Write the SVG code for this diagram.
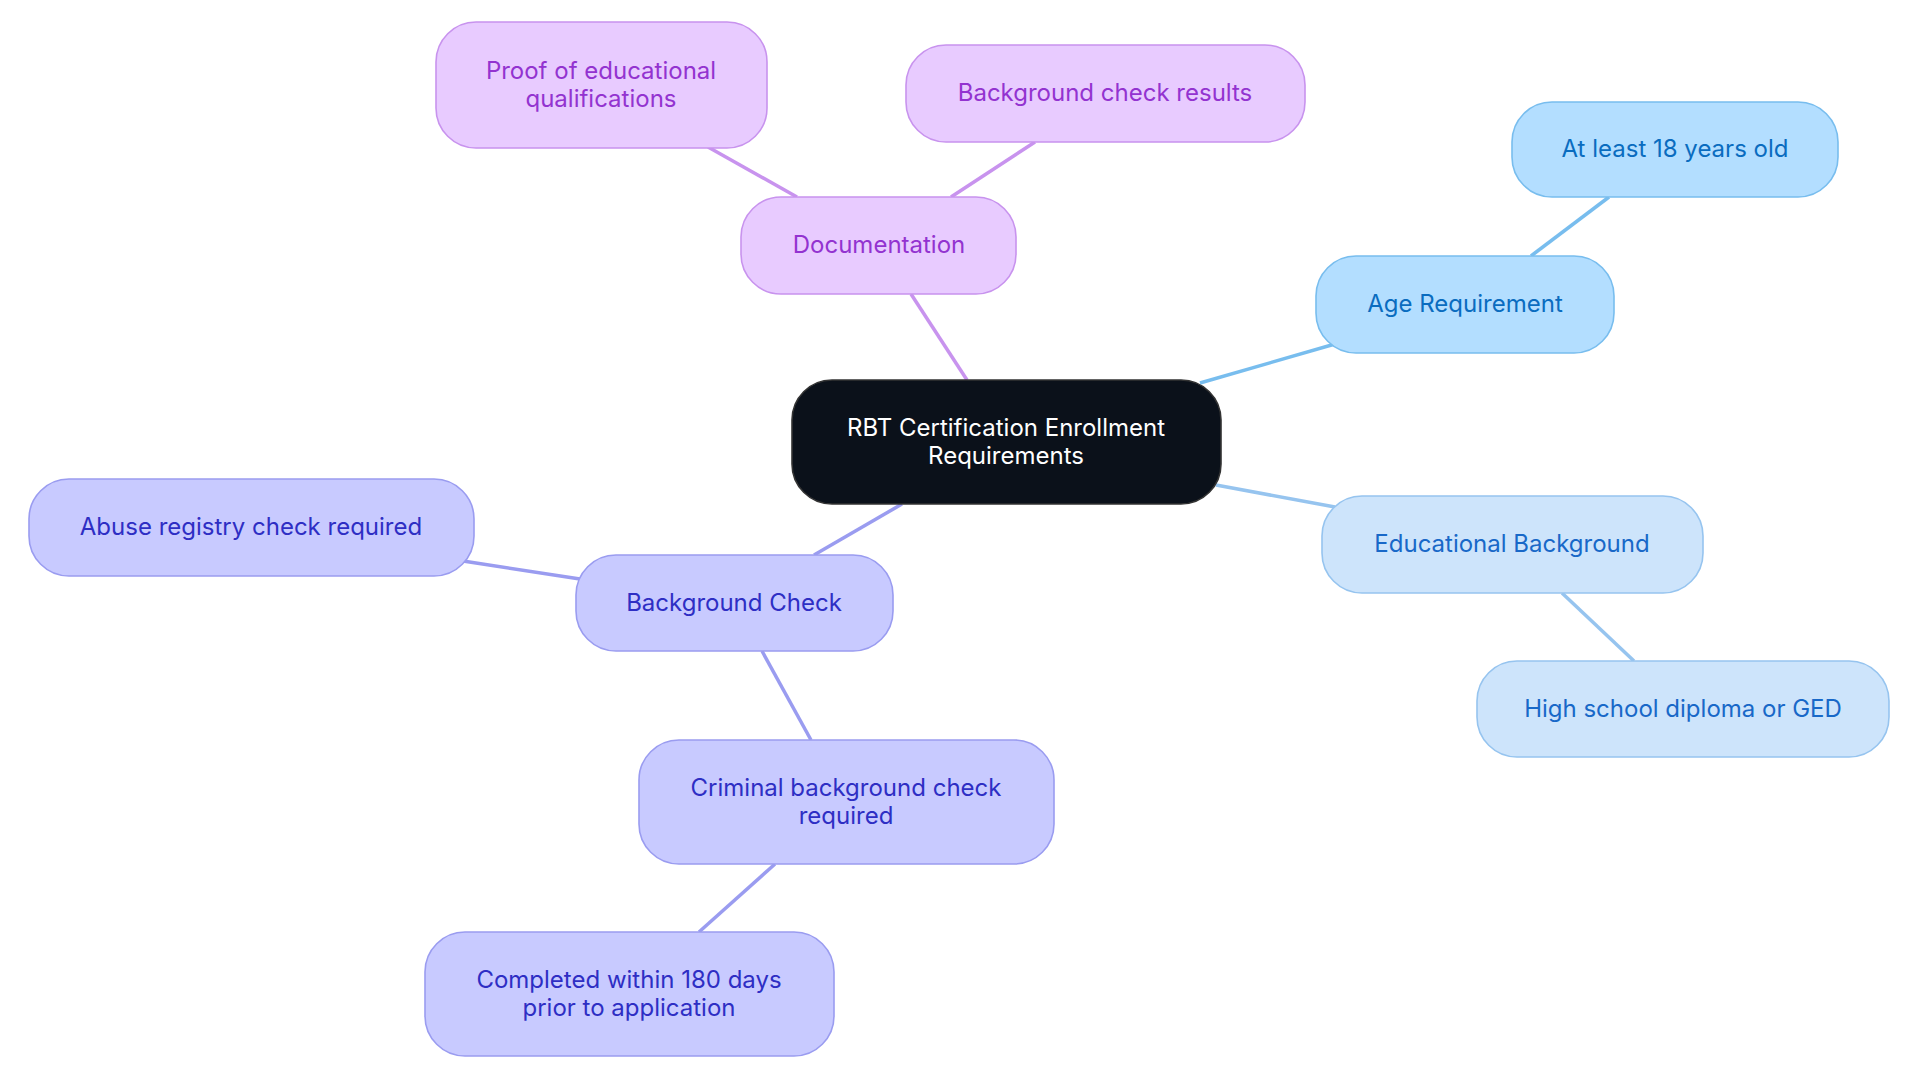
<svg xmlns="http://www.w3.org/2000/svg" width="1920" height="1083" viewBox="0 0 1920 1083">
<style>
text{font-family:Inter,"Noto Sans",sans-serif;font-size:24px;text-anchor:middle;dominant-baseline:central}
rect{stroke-width:1.6}
.c line{stroke-width:3.5}
.a rect{fill:#b3deff;stroke:#78bdee}.a text{fill:#0a6cbf}
.e rect{fill:#cde4fb;stroke:#96c4ef}.e text{fill:#1868c8}
.p rect{fill:#e8cbff;stroke:#c893ee}.p text{fill:#9333d0}
.i rect{fill:#c8caff;stroke:#9a9cf0}.i text{fill:#2e2ec4}
</style>
<rect width="1920" height="1083" fill="#fff"/>
<g class="c">
<line x1="967" y1="380" x2="911" y2="294" stroke="#c893ee"/>
<line x1="797" y1="197" x2="708" y2="147" stroke="#c893ee"/>
<line x1="951" y1="197" x2="1035" y2="142" stroke="#c893ee"/>
<line x1="1200" y1="383" x2="1335" y2="344" stroke="#78bdee"/>
<line x1="1531" y1="256" x2="1609" y2="197" stroke="#78bdee"/>
<line x1="1216" y1="485" x2="1335" y2="507" stroke="#96c4ef"/>
<line x1="1562" y1="593" x2="1634" y2="661" stroke="#96c4ef"/>
<line x1="902" y1="504" x2="814" y2="555" stroke="#9a9cf0"/>
<line x1="580" y1="579" x2="463" y2="561" stroke="#9a9cf0"/>
<line x1="762" y1="651" x2="811" y2="740" stroke="#9a9cf0"/>
<line x1="775" y1="864" x2="699" y2="932" stroke="#9a9cf0"/>
</g>
<g id="root"><rect x="792" y="380" width="429" height="124" rx="40" fill="#0b111a" stroke="#333"/><text x="1006" y="427" fill="#fff">RBT Certification Enrollment</text><text x="1006" y="455" fill="#fff">Requirements</text></g>
<g id="age" class="a"><rect x="1316" y="256" width="298" height="97" rx="40"/><text x="1465" y="303">Age Requirement</text></g>
<g id="age18" class="a"><rect x="1512" y="102" width="326" height="95" rx="40"/><text x="1675" y="148">At least 18 years old</text></g>
<g id="edu" class="e"><rect x="1322" y="496" width="381" height="97" rx="40"/><text x="1512" y="543">Educational Background</text></g>
<g id="hs" class="e"><rect x="1477" y="661" width="412" height="96" rx="40"/><text x="1683" y="708">High school diploma or GED</text></g>
<g id="doc" class="p"><rect x="741" y="197" width="275" height="97" rx="40"/><text x="879" y="244">Documentation</text></g>
<g id="proof" class="p"><rect x="436" y="22" width="331" height="126" rx="40"/><text x="601" y="70">Proof of educational</text><text x="601" y="98">qualifications</text></g>
<g id="bgres" class="p"><rect x="906" y="45" width="399" height="97" rx="40"/><text x="1105" y="92">Background check results</text></g>
<g id="bg" class="i"><rect x="576" y="555" width="317" height="96" rx="40"/><text x="734" y="602">Background Check</text></g>
<g id="abuse" class="i"><rect x="29" y="479" width="445" height="97" rx="40"/><text x="251" y="526">Abuse registry check required</text></g>
<g id="crim" class="i"><rect x="639" y="740" width="415" height="124" rx="40"/><text x="846" y="787">Criminal background check</text><text x="846" y="815">required</text></g>
<g id="comp" class="i"><rect x="425" y="932" width="409" height="124" rx="40"/><text x="629" y="979">Completed within 180 days</text><text x="629" y="1007">prior to application</text></g>
</svg>
